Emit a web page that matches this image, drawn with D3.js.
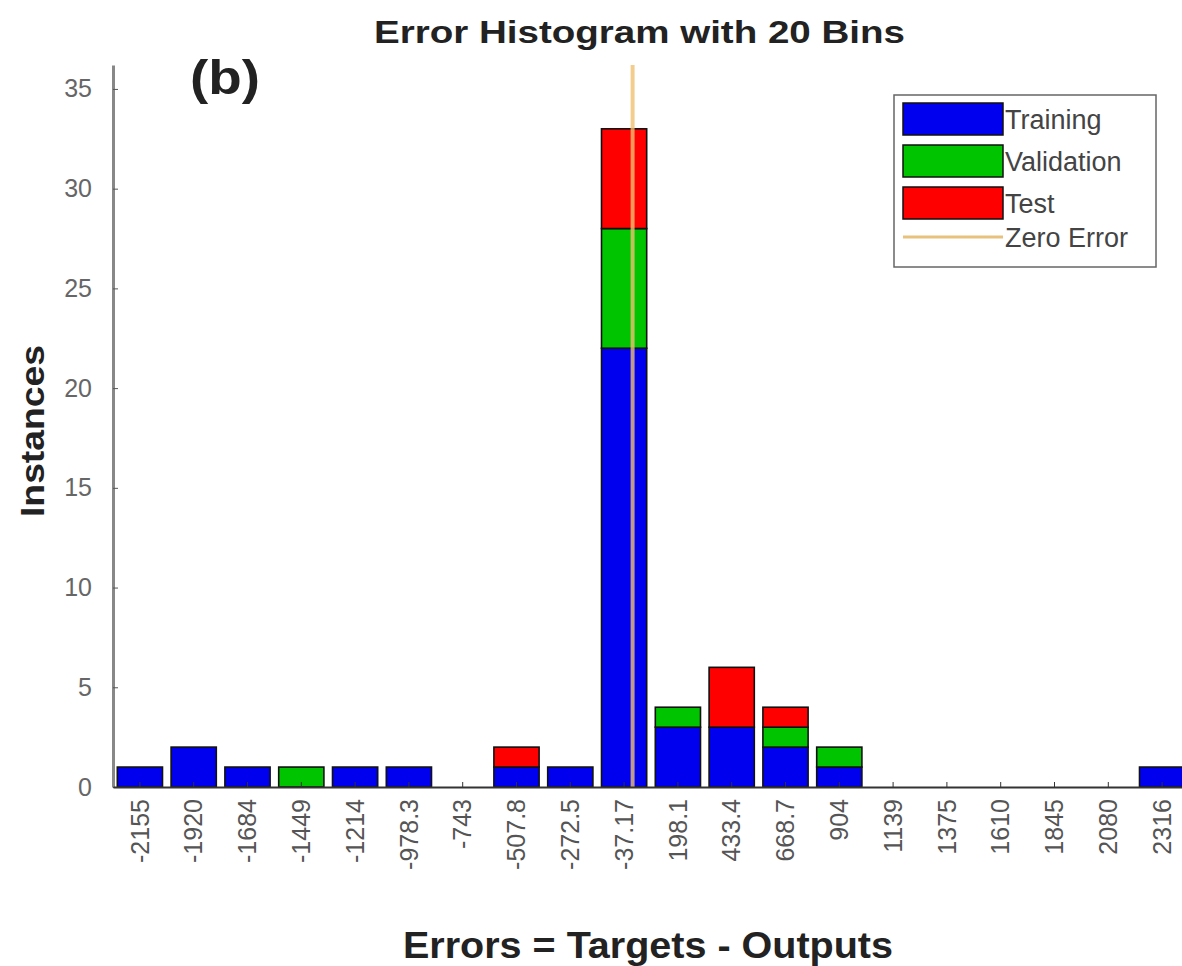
<!DOCTYPE html>
<html>
<head>
<meta charset="utf-8">
<script src="https://cdn.jsdelivr.net/npm/d3@7"></script>
<style>
  body { margin: 0; background: #fff; }
  svg { display: block; font-family: "Liberation Sans", Arial, sans-serif; }
</style>
</head>
<body>
<div id="chart"></div>
<script>
// bin centres (tick labels) and stacked counts per bin
var binLabels = ['-2155', '-1920', '-1684', '-1449', '-1214', '-978.3', '-743', '-507.8', '-272.5', '-37.17',
  '198.1', '433.4', '668.7', '904', '1139', '1375', '1610', '1845', '2080', '2316'];
var training   = [1, 2, 1, 0, 1, 1, 0, 1, 1, 22, 3, 3, 2, 1, 0, 0, 0, 0, 0, 1];
var validation = [0, 0, 0, 1, 0, 0, 0, 0, 0, 6, 1, 0, 1, 1, 0, 0, 0, 0, 0, 0];
var test       = [0, 0, 0, 0, 0, 0, 0, 1, 0, 5, 0, 3, 1, 0, 0, 0, 0, 0, 0, 0];
var seriesNames = ['Training', 'Validation', 'Test'];
var seriesColors = ['#0000ee', '#00c400', '#ff0000'];
var yTicks = [0, 5, 10, 15, 20, 25, 30, 35];
var binWidth = 235.3;
var zeroError = 0;

var W = 1182, H = 966;
var margin = { top: 65, right: 0, bottom: 179, left: 113 };
var width = 1076, height = H - margin.top - margin.bottom;

var svg = d3.select('#chart').append('svg')
  .attr('width', W).attr('height', H);
var g = svg.append('g')
  .attr('transform', 'translate(' + margin.left + ',' + margin.top + ')');

var x = d3.scaleBand().domain(binLabels).range([0, width]).paddingInner(0.16).paddingOuter(0.08);
var y = d3.scaleLinear().domain([0, 36.2]).range([height, 0]);

// build stacked data
var rows = binLabels.map(function (b, i) {
  return { bin: b, Training: training[i], Validation: validation[i], Test: test[i] };
});
var stacked = d3.stack().keys(seriesNames)(rows);

g.selectAll('g.layer')
  .data(stacked)
  .enter().append('g')
  .attr('class', 'layer')
  .attr('fill', function (d, i) { return seriesColors[i]; })
  .selectAll('rect')
  .data(function (d) { return d.filter(function (v) { return v[1] > v[0]; }); })
  .enter().append('rect')
  .attr('x', function (d) { return x(d.data.bin); })
  .attr('width', x.bandwidth())
  .attr('y', function (d) { return y(d[1]); })
  .attr('height', function (d) { return y(d[0]) - y(d[1]); })
  .attr('stroke', '#111')
  .attr('stroke-width', 1.6);

// zero error line, placed linearly from the -37.17 bin centre
var zx = x('-37.17') + x.bandwidth() / 2 + (zeroError - (-37.17)) / binWidth * x.step();
g.append('line')
  .attr('x1', zx).attr('x2', zx)
  .attr('y1', y(36.2)).attr('y2', y(0))
  .attr('stroke', '#f0c070')
  .attr('stroke-opacity', 0.8)
  .attr('stroke-width', 4);

// y axis
var yAxis = g.append('g')
  .call(d3.axisLeft(y).tickValues(yTicks).tickSizeInner(-5).tickSizeOuter(0).tickPadding(21));
yAxis.select('.domain').attr('stroke', '#888').attr('stroke-width', 3);
yAxis.selectAll('.tick line').attr('stroke', '#555');
yAxis.selectAll('text').attr('fill', '#666').style('font-size', '25px');

// x axis
var xAxis = g.append('g')
  .attr('transform', 'translate(0,' + height + ')')
  .call(d3.axisBottom(x).tickSizeInner(-5).tickSizeOuter(0));
xAxis.select('.domain').attr('stroke', '#333').attr('stroke-width', 2);
xAxis.selectAll('.tick line').attr('stroke', '#333');
xAxis.selectAll('text')
  .attr('fill', '#555')
  .style('font-size', '25px')
  .attr('transform', 'rotate(-90)')
  .attr('x', -12).attr('y', 0).attr('dy', '0.35em')
  .style('text-anchor', 'end');

// titles
svg.append('text')
  .attr('x', 374).attr('y', 43)
  .attr('textLength', 531).attr('lengthAdjust', 'spacingAndGlyphs')
  .style('font-size', '31px').style('font-weight', 'bold').attr('fill', '#222')
  .text('Error Histogram with 20 Bins');
svg.append('text')
  .attr('x', 190).attr('y', 94)
  .attr('textLength', 70).attr('lengthAdjust', 'spacingAndGlyphs')
  .style('font-size', '48px').style('font-weight', 'bold').attr('fill', '#222')
  .text('(b)');
svg.append('text')
  .attr('transform', 'translate(44,431) rotate(-90)')
  .attr('text-anchor', 'middle')
  .attr('textLength', 172).attr('lengthAdjust', 'spacingAndGlyphs')
  .style('font-size', '34px').style('font-weight', 'bold').attr('fill', '#222')
  .text('Instances');
svg.append('text')
  .attr('x', 403).attr('y', 958)
  .attr('textLength', 490).attr('lengthAdjust', 'spacingAndGlyphs')
  .style('font-size', '36px').style('font-weight', 'bold').attr('fill', '#222')
  .text('Errors = Targets - Outputs');

// legend
var legend = svg.append('g').attr('transform', 'translate(894,95)');
legend.append('rect')
  .attr('width', 262).attr('height', 172)
  .attr('fill', '#fff').attr('stroke', '#666').attr('stroke-width', 1.5);
seriesNames.forEach(function (name, i) {
  var ly = 8 + i * 42;
  legend.append('rect')
    .attr('x', 9).attr('y', ly).attr('width', 100).attr('height', 32)
    .attr('fill', seriesColors[i]).attr('stroke', '#111').attr('stroke-width', 1.5);
  legend.append('text')
    .attr('x', 111).attr('y', ly + 26)
    .style('font-size', '27px').attr('fill', '#444')
    .text(name);
});
legend.append('line')
  .attr('x1', 9).attr('x2', 109).attr('y1', 142).attr('y2', 142)
  .attr('stroke', '#e8c27c').attr('stroke-width', 3);
legend.append('text')
  .attr('x', 111).attr('y', 152)
  .style('font-size', '27px').attr('fill', '#444')
  .text('Zero Error');
</script>
</body>
</html>
